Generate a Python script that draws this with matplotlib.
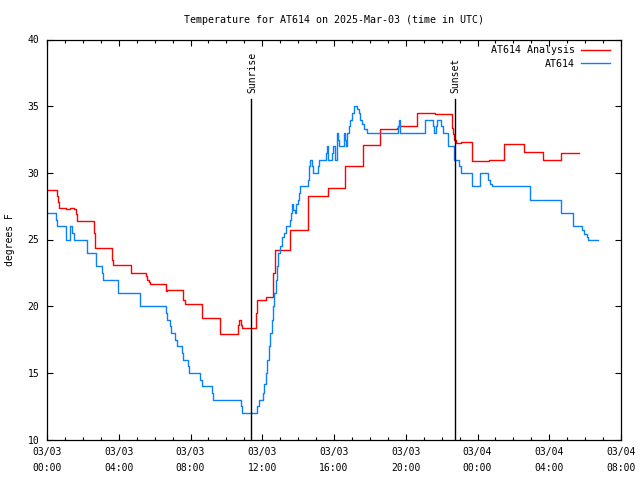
import matplotlib
matplotlib.use("Agg")
import matplotlib.pyplot as plt
from matplotlib.ticker import MultipleLocator, FixedLocator

# ---- data (hours since 03/03 00:00 UTC, degrees F) ----
analysis_hours = [0.0, 0.55, 0.6, 0.65, 1.06, 1.28, 1.5, 1.6, 1.65, 2.62, 2.65,
                  3.64, 3.66, 4.66, 5.5, 5.58, 5.66, 5.75, 6.62, 6.7, 7.6, 7.68,
                  8.62, 9.64, 10.63, 10.68, 10.8, 10.89, 11.63, 11.68, 12.2,
                  12.62, 12.7, 13.55, 14.57, 15.64, 16.63, 17.64, 18.58, 19.5,
                  19.55, 20.6, 21.63, 22.6, 22.65, 22.7, 22.78, 23.08, 23.67,
                  24.65, 24.75, 25.49, 26.6, 27.63, 28.65, 29.64]
analysis_temp = [28.7, 28.3, 27.8, 27.4, 27.3, 27.4, 27.3, 26.9, 26.4, 25.5, 24.4,
                 23.5, 23.1, 22.5, 22.3, 22.0, 21.8, 21.66, 21.15, 21.2, 20.5, 20.15,
                 19.1, 17.9, 18.6, 19.0, 18.6, 18.37, 19.5, 20.46, 20.7,
                 22.5, 24.2, 25.7, 28.3, 28.9, 30.5, 32.1, 33.3, 33.4,
                 33.5, 34.5, 34.4, 33.4, 32.9, 32.5, 32.25, 32.3, 30.9,
                 30.95, 31.0, 32.2, 31.55, 31.0, 31.5, 31.5]

obs_hours = [0.0, 0.48, 0.55, 1.04, 1.28, 1.38, 1.5, 2.21, 2.71, 3.05, 3.12, 3.96,
             5.18, 6.62, 6.67, 6.85, 6.89, 7.15, 7.23, 7.55, 7.6, 7.85, 7.93,
             8.53, 8.62, 9.2, 9.25, 10.8, 10.85, 11.72, 11.8, 12.06, 12.12,
             12.2, 12.28, 12.36, 12.44, 12.52, 12.6, 12.68, 12.75, 12.8, 12.9,
             13.0, 13.1, 13.2, 13.3, 13.55, 13.6, 13.65, 13.72, 13.8, 13.9,
             13.98, 14.05, 14.12, 14.57, 14.62, 14.68, 14.75, 14.85, 15.1,
             15.18, 15.55, 15.6, 15.68, 15.9, 15.95, 16.05, 16.18, 16.25, 16.3,
             16.55, 16.62, 16.68, 16.75, 16.82, 16.9, 17.0, 17.1, 17.3, 17.38,
             17.45, 17.55, 17.7, 17.82, 19.58, 19.62, 19.7, 21.05, 21.1, 21.5,
             21.55, 21.7, 21.75, 21.95, 22.05, 22.37, 22.69, 22.95, 23.1, 23.67,
             24.13, 24.6, 24.7, 24.82, 26.92, 28.63, 29.3, 29.8, 29.95, 30.1,
             30.17, 30.73]
obs_temp = [27.0, 26.5, 26.0, 25.0, 26.0, 25.5, 25.0, 24.0, 23.0, 22.5, 22.0, 21.0,
            20.0, 19.5, 19.0, 18.5, 18.0, 17.5, 17.0, 16.5, 16.0, 15.5, 15.0,
            14.5, 14.0, 13.5, 13.0, 12.5, 12.0, 12.5, 13.0, 13.5, 14.2,
            15.0, 16.0, 17.0, 18.0, 19.0, 20.0, 21.0, 22.0, 23.0, 24.0,
            24.5, 25.2, 25.5, 26.0, 26.5, 27.0, 27.7, 27.2, 27.0, 27.7,
            28.0, 28.5, 29.0, 29.5, 30.5, 31.0, 30.5, 30.0, 30.5,
            31.0, 31.5, 32.0, 31.0, 31.5, 32.0, 31.0, 33.0, 32.5, 32.0,
            33.0, 32.5, 32.0, 33.0, 33.5, 34.0, 34.5, 35.0, 34.8, 34.5,
            34.0, 33.7, 33.3, 33.0, 33.5, 34.0, 33.0, 33.5, 34.0, 33.5,
            33.0, 33.5, 34.0, 33.5, 33.0, 32.0, 31.0, 30.5, 30.0, 29.0,
            30.0, 29.5, 29.2, 29.0, 28.0, 27.0, 26.0, 25.7, 25.4, 25.2,
            25.0, 25.0]

sunrise_hour = 11.38
sunset_hour = 22.72
event_labels = ["Sunrise", "Sunset"]

tick_hours = [0, 4, 8, 12, 16, 20, 24, 28, 32]
tick_labels = ["03/03\n00:00", "03/03\n04:00", "03/03\n08:00", "03/03\n12:00",
               "03/03\n16:00", "03/03\n20:00", "03/04\n00:00", "03/04\n04:00",
               "03/04\n08:00"]

title = "Temperature for AT614 on 2025-Mar-03 (time in UTC)"
series_names = ["AT614 Analysis", "AT614"]

# ---- plotting ----
plt.rcParams['font.family'] = ['DejaVu Sans Mono']
plt.rcParams['font.size'] = 7

fig = plt.figure(figsize=(6.4, 4.8), dpi=100)
ax = fig.add_axes([47/640, 1 - 439.5/480, (621-47)/640, (439.5-39.5)/480])

red = "#ff0000"
blue = "#0a80ff"
ax.plot(analysis_hours, analysis_temp, drawstyle="steps-post", color=red, lw=1.0,
        label=series_names[0])
ax.plot(obs_hours, obs_temp, drawstyle="steps-post", color=blue, lw=1.0,
        label=series_names[1])

for h, lab in zip([sunrise_hour, sunset_hour], event_labels):
    ax.plot([h, h], [10, 35.55], color="black", lw=1.0)
    ax.text(h + 0.05, 35.95, lab, rotation=90, ha="center", va="bottom",
            fontsize=7)

ax.set_xlim(0, 32)
ax.set_ylim(10, 40)
ax.xaxis.set_major_locator(FixedLocator(tick_hours))
ax.set_xticklabels(tick_labels, linespacing=1.7)
ax.xaxis.set_minor_locator(MultipleLocator(1))
ax.yaxis.set_major_locator(MultipleLocator(5))
ax.tick_params(which="both", direction="in", top=True, right=True, width=0.8)
ax.tick_params(which="major", length=4)
ax.tick_params(which="minor", length=2.2)
ax.tick_params(axis="x", pad=5.5)
ax.tick_params(axis="y", pad=5.5)
for s in ax.spines.values():
    s.set_linewidth(0.9)

leg = ax.legend(loc="upper right", frameon=False, markerfirst=False,
                handlelength=2.9, handletextpad=0.6, borderaxespad=0.0,
                bbox_to_anchor=(0.9878, 0.996),
                labelspacing=0.35, fontsize=7.2)
for t in leg.get_texts():
    t.set_ha("right")

fig.text(334/640, 1 - 20/480, title, ha="center", va="center", fontsize=7.2)
fig.text(10.5/640, 1 - 240/480, "degrees F", rotation=90, ha="center",
         va="center", fontsize=7)

fig.savefig("out.png", dpi=100)
